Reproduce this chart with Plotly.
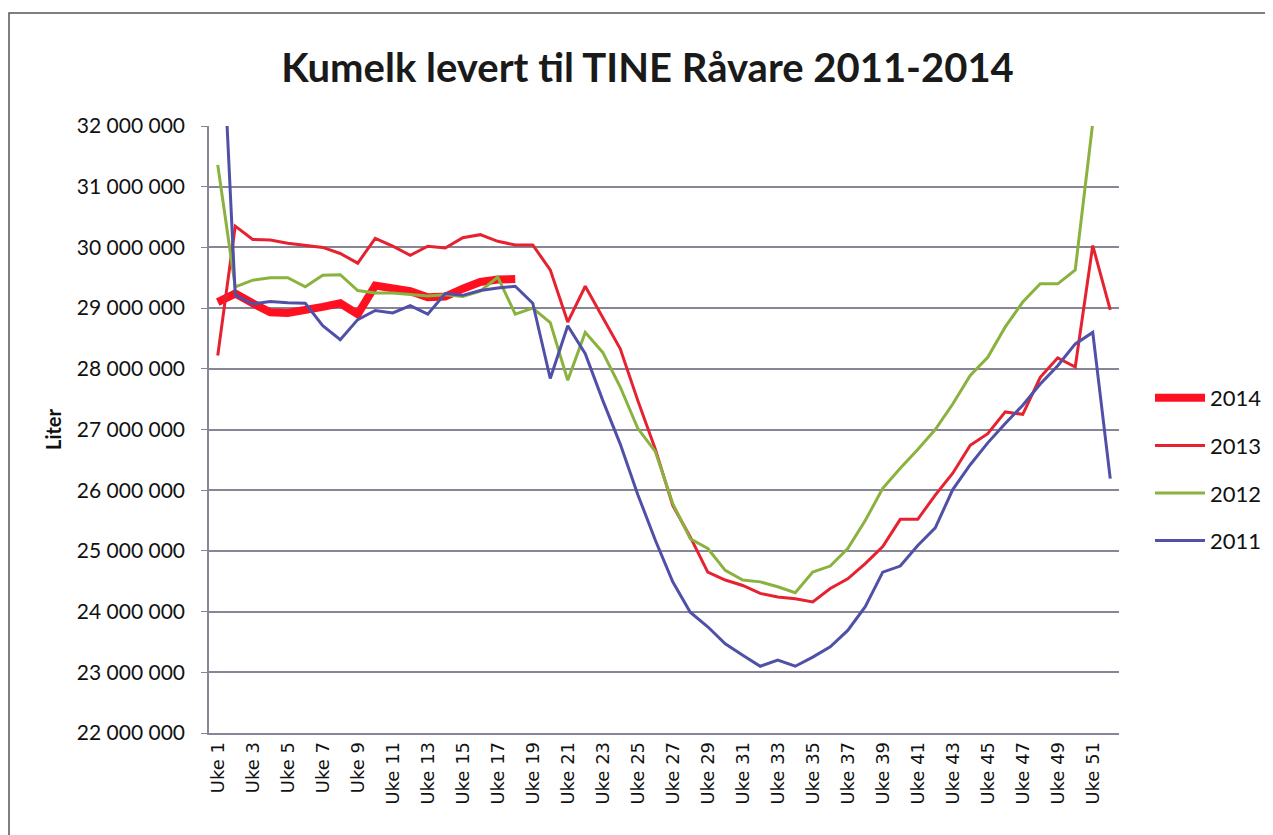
import plotly.graph_objects as go

weeks = [f"Uke {i}" for i in range(1, 53)]
tick_weeks = [f"Uke {i}" for i in range(1, 53, 2)]

y_tickvals = [22000000, 23000000, 24000000, 25000000, 26000000, 27000000,
              28000000, 29000000, 30000000, 31000000, 32000000]
y_ticktext = ["22 000 000", "23 000 000", "24 000 000", "25 000 000", "26 000 000",
              "27 000 000", "28 000 000", "29 000 000", "30 000 000", "31 000 000",
              "32 000 000"]

liter_2014 = [29100000, 29240000, 29080000, 28930000, 28920000, 28960000, 29020000,
              29080000, 28900000, 29370000, 29320000, 29280000, 29180000, 29190000,
              29320000, 29430000, 29470000, 29480000]

liter_2013 = [28220000, 30350000, 30130000, 30120000, 30070000, 30030000, 30000000,
              29900000, 29740000, 30150000, 30020000, 29870000, 30020000, 29990000,
              30160000, 30210000, 30100000, 30040000, 30040000, 29630000, 28770000,
              29360000, 28850000, 28330000, 27480000, 26680000, 25750000, 25230000,
              24650000, 24520000, 24430000, 24300000, 24240000, 24210000, 24160000,
              24380000, 24540000, 24790000, 25070000, 25520000, 25520000, 25920000,
              26280000, 26740000, 26930000, 27290000, 27250000, 27860000, 28180000,
              28030000, 30030000, 28970000]

liter_2012 = [31360000, 29350000, 29460000, 29500000, 29500000, 29350000, 29540000,
              29550000, 29290000, 29250000, 29250000, 29230000, 29200000, 29220000,
              29190000, 29280000, 29510000, 28900000, 29000000, 28760000, 27810000,
              28600000, 28270000, 27700000, 27020000, 26640000, 25780000, 25200000,
              25040000, 24680000, 24520000, 24490000, 24410000, 24310000, 24650000,
              24750000, 25040000, 25500000, 26030000, 26360000, 26670000, 27000000,
              27420000, 27890000, 28190000, 28690000, 29100000, 29400000, 29400000,
              29630000, 32050000, None]

liter_2011 = [35200000, 29210000, 29070000, 29110000, 29090000, 29080000, 28710000,
              28480000, 28810000, 28960000, 28920000, 29040000, 28900000, 29240000,
              29210000, 29290000, 29330000, 29360000, 29080000, 27840000, 28710000,
              28250000, 27480000, 26760000, 25930000, 25180000, 24490000, 23990000,
              23750000, 23470000, 23280000, 23100000, 23200000, 23100000, 23250000,
              23420000, 23690000, 24080000, 24650000, 24750000, 25090000, 25380000,
              26010000, 26420000, 26780000, 27100000, 27400000, 27750000, 28050000,
              28410000, 28600000, 26190000]

# page body has an 8px margin: work in reference pixels, shifted by OFF
OFF = 8
W, H = 1273 - OFF, 835 - OFF
L, R, T, B = 209 - OFF, 1119 - OFF, 126 - OFF, 733 - OFF

fig = go.Figure()
series = [
    ("2014", liter_2014, "#FF1020", 8),
    ("2013", liter_2013, "#E62230", 3),
    ("2012", liter_2012, "#8AB23E", 3),
    ("2011", liter_2011, "#5050A8", 3),
]
for name, vals, color, width in series:
    fig.add_trace(go.Scatter(
        x=weeks[:len(vals)], y=vals, name=name, mode="lines",
        line=dict(color=color, width=width), legendgroup=name,
        connectgaps=False,
    ))

grid = "#868696"
fig.update_layout(
    width=W, height=H,
    margin=dict(l=L, r=W - R, t=T, b=H - B, autoexpand=False),
    paper_bgcolor="white", plot_bgcolor="white",
    font=dict(family="Lato", color="#111111"),
    title=dict(text="<b>Kumelk levert til TINE Råvare 2011-2014</b>",
               font=dict(family="Lato", size=40, color="#1a1a1a"),
               x=(647.5 - OFF) / W, xanchor="center", xref="container",
               y=1 - (68 - OFF) / H, yanchor="middle", yref="container"),
    showlegend=True,
    legend=dict(x=(1150 - OFF - L) / (R - L), y=(B - (377 - OFF)) / (B - T),
                xanchor="left", yanchor="top",
                font=dict(family="Lato", size=22, color="#111111"),
                tracegroupgap=16, itemwidth=50,
                bgcolor="rgba(0,0,0,0)"),
    xaxis=dict(type="category", categoryorder="array", categoryarray=weeks,
               tickmode="array", tickvals=tick_weeks, ticktext=tick_weeks,
               tickangle=-90, tickfont=dict(family="DejaVu Sans", size=18, color="#111111"),
               showgrid=False, showline=True, linecolor=grid, linewidth=1.5,
               ticks="", range=[-0.5, 51.5], zeroline=False),
    yaxis=dict(range=[22000000, 32000000], tickmode="array",
               tickvals=y_tickvals, ticktext=y_ticktext,
               tickfont=dict(family="Lato", size=21, color="#111111"),
               showgrid=True, gridcolor=grid, gridwidth=1.5,
               showline=True, linecolor=grid, linewidth=1.5,
               ticks="outside", ticklen=6, tickcolor=grid, ticklabelstandoff=12,
               zeroline=False,
               title=dict(text="<b>Liter</b>", font=dict(family="Lato", size=20, color="#111111"),
                          standoff=10)),
    shapes=[dict(type="rect", xref="paper", yref="paper",
                 x0=(9 - OFF - L) / (R - L), x1=(1300 - L) / (R - L),
                 y0=(B - 860) / (B - T), y1=(B - (13 - OFF)) / (B - T),
                 line=dict(color="#555555", width=1.5), fillcolor="rgba(0,0,0,0)",
                 layer="below")],
)

fig.write_html("out.html")
